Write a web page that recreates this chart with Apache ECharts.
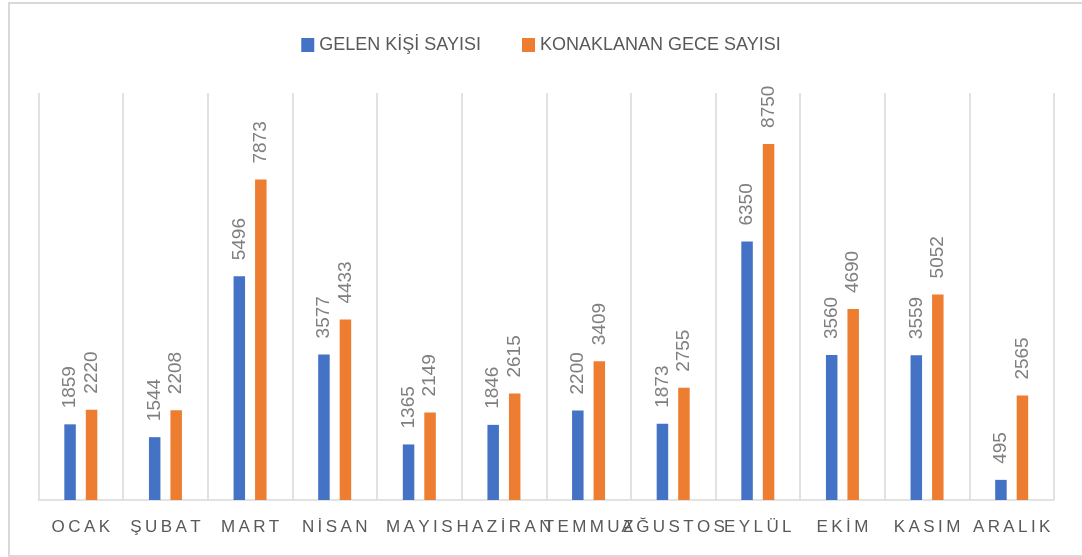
<!DOCTYPE html>
<html>
<head>
<meta charset="utf-8">
<script src="https://cdn.jsdelivr.net/npm/echarts@6/dist/echarts.min.js"></script>
<style>
  html, body { margin: 0; padding: 0; background: #ffffff; }
  #chart { width: 1082px; height: 557px; }
</style>
</head>
<body>
<div id="chart"></div>
<script>
// Monthly visitors and overnight stays
const months = ['OCAK', 'ŞUBAT', 'MART', 'NİSAN', 'MAYIS', 'HAZİRAN', 'TEMMUZ', 'AĞUSTOS', 'EYLÜL', 'EKİM', 'KASIM', 'ARALIK'];
const seriesNames = ['GELEN KİŞİ SAYISI', 'KONAKLANAN GECE SAYISI'];
const visitors = [1859, 1544, 5496, 3577, 1365, 1846, 2200, 1873, 6350, 3560, 3559, 495];
const nights = [2220, 2208, 7873, 4433, 2149, 2615, 3409, 2755, 8750, 4690, 5052, 2565];

const FONT = '"Liberation Sans", Arial, sans-serif';
const THIN = '\u2009';

const valueLabel = {
  show: true,
  position: 'top',
  distance: 16,
  rotate: 90,
  align: 'left',
  verticalAlign: 'middle',
  color: '#7f7f7f',
  fontSize: 19,
  fontFamily: FONT
};

const chart = echarts.init(document.getElementById('chart'), null, { renderer: 'canvas' });
chart.setOption({
  backgroundColor: '#ffffff',
  animation: false,
  graphic: [{
    type: 'rect',
    shape: { x: 9, y: 3, width: 1100, height: 553 },
    style: { fill: 'none', stroke: '#d9d9d9', lineWidth: 2 },
    silent: true,
    z: -1
  }],
  legend: {
    data: seriesNames,
    top: 31,
    left: 'center',
    icon: 'rect',
    itemWidth: 13,
    itemHeight: 14,
    itemGap: 41,
    textStyle: { color: '#595959', fontSize: 18, fontFamily: FONT }
  },
  grid: { left: 38.5, right: 28, top: 93, bottom: 57, containLabel: false },
  xAxis: {
    type: 'category',
    data: months,
    axisLine: { show: true, lineStyle: { color: '#d9d9d9', width: 1.5 } },
    axisTick: { show: false },
    splitLine: { show: true, lineStyle: { color: '#d9d9d9', width: 1.5 } },
    axisLabel: {
      interval: 0,
      margin: 19,
      color: '#595959',
      fontSize: 17,
      fontFamily: FONT,
      formatter: v => Array.from(v).join(THIN)
    }
  },
  yAxis: {
    type: 'value',
    min: 0,
    max: 10000,
    show: false,
    splitLine: { show: false }
  },
  series: [
    {
      name: seriesNames[0],
      type: 'bar',
      data: visitors,
      barWidth: 11.5,
      barGap: '87%',
      itemStyle: { color: '#4472C4' },
      label: valueLabel
    },
    {
      name: seriesNames[1],
      type: 'bar',
      data: nights,
      barWidth: 11.5,
      barGap: '87%',
      itemStyle: { color: '#ED7D31' },
      label: valueLabel
    }
  ]
});
</script>
</body>
</html>
